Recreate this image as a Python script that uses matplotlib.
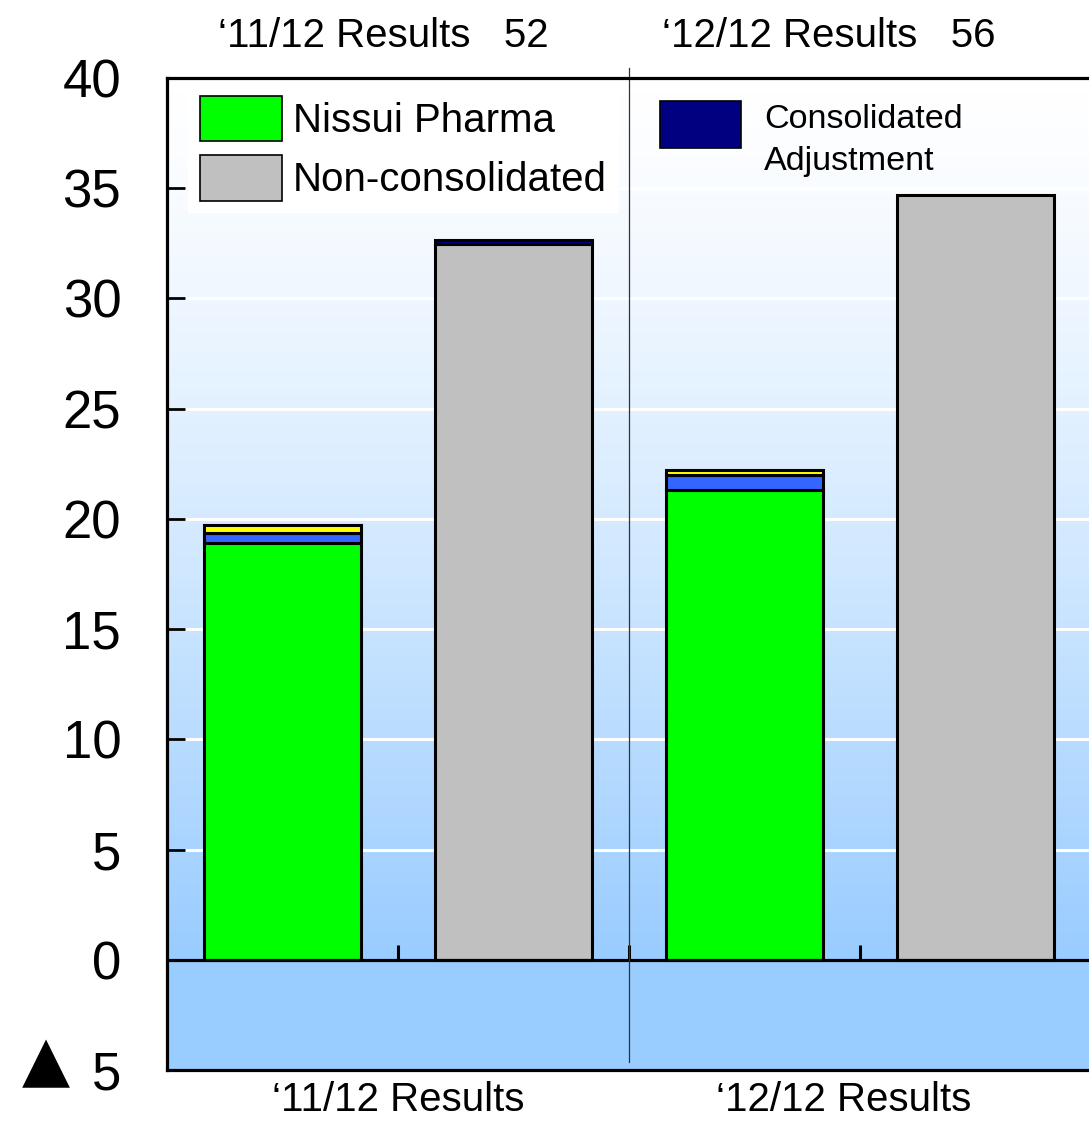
import numpy as np
import matplotlib
matplotlib.use("Agg")
import matplotlib.pyplot as plt
from matplotlib.patches import Patch, Rectangle
from matplotlib.colors import LinearSegmentedColormap
from matplotlib.transforms import blended_transform_factory

plt.rcParams['font.family'] = ['Liberation Sans', 'DejaVu Sans']

# data
group_labels = ['\u201811/12 Results', '\u201812/12 Results']
top_labels = ['\u201811/12 Results   52', '\u201812/12 Results   56']
nissui_x = [0, 2]
nonconsol_x = [1, 3]
nissui = [18.9, 21.3]
subsid_blue = [0.45, 0.68]
subsid_yellow = [0.37, 0.23]
non_consolidated = [32.45, 34.7]
consol_adjustment = [0.22, 0.0]
y_ticks = [-5, 0, 5, 10, 15, 20, 25, 30, 35, 40]
y_ticklabels = ['5', '0', '5', '10', '15', '20', '25', '30', '35', '40']
bottom_label_x = [0.5, 2.43]
top_label_x = [0.436, 2.366]

c_green = '#00FF00'
c_blue = '#3366FF'
c_yellow = '#FFFF00'
c_gray = '#C0C0C0'
c_navy = '#000080'
c_sky = '#99CCFF'

fig = plt.figure(figsize=(10.89, 11.21), dpi=100)
ax = fig.add_axes([167 / 1089, 51 / 1121, 924 / 1089, 992 / 1121])

# background: gradient above zero (white at top, blue at zero), flat blue below
grad = (1 - np.linspace(0, 1, 256)) ** 1.3
cmap = LinearSegmentedColormap.from_list('bg', ['#FFFFFF', c_sky])
ax.imshow(grad[:, None], extent=[-0.5, 3.5, 0, 40], cmap=cmap, aspect='auto',
          vmin=0, vmax=1, zorder=0, origin='lower')
ax.axhspan(-5, 0, color=c_sky, zorder=0.1, lw=0)
ax.set_xlim(-0.5, 3.5)
ax.set_ylim(-5, 40)

ax.set_axisbelow(True)
ax.yaxis.grid(True, color='white', lw=2.2)

w = 0.68
edge = dict(edgecolor='black', linewidth=2.2, zorder=3)
ax.bar(nissui_x, nissui, w, color=c_green, **edge)
ax.bar(nissui_x, subsid_blue, w, bottom=nissui, color=c_blue, **edge)
ax.bar(nissui_x, subsid_yellow, w, bottom=np.add(nissui, subsid_blue), color=c_yellow, **edge)
ax.bar(nonconsol_x, non_consolidated, w, color=c_gray, **edge)
adj = np.array(consol_adjustment)
ax.bar(np.array(nonconsol_x)[adj > 0], adj[adj > 0], w,
       bottom=np.array(non_consolidated)[adj > 0], color=c_navy, **edge)

ax.axhline(0, color='black', lw=2.3, zorder=4)
ax.vlines([0.5, 1.5, 2.5], 0, 0.68, color='black', lw=2.2, zorder=4)
ax.axvline(1.5, ymin=0.008, ymax=1.01, color='#333333', lw=0.9, zorder=4, clip_on=False)

for s in ['left', 'top', 'bottom']:
    ax.spines[s].set_linewidth(2.3)
    ax.spines[s].set_zorder(5)
ax.spines['right'].set_visible(False)

ax.set_yticks(y_ticks, y_ticklabels)
ax.tick_params(axis='y', direction='in', length=13, width=2, labelsize=38, pad=33)
ax.set_xticks(bottom_label_x, group_labels)
ax.tick_params(axis='x', length=0, labelsize=29, pad=8)

# negative marker in front of the -5 label
tr_y = blended_transform_factory(ax.transAxes, ax.transData)
ax.text(-0.131, -4.68, '\u25b2', transform=tr_y, ha='center', va='center',
        fontsize=45, family='DejaVu Sans')

tr = blended_transform_factory(ax.transData, ax.transAxes)
for x, t in zip(top_label_x, top_labels):
    ax.text(x, 1.042, t, transform=tr, ha='center', va='center', fontsize=29)

# legend for the two main series
h1 = [Patch(facecolor=c_green, edgecolor='black', lw=1.2, label='Nissui Pharma'),
      Patch(facecolor=c_gray, edgecolor='black', lw=1.2, label='Non-consolidated')]
ax.legend(handles=h1, loc='upper left', bbox_to_anchor=(0.0228, 0.994),
          borderaxespad=0, borderpad=0.3, fontsize=29, handlelength=2.03,
          handleheight=1.35, handletextpad=0.27, labelspacing=0.35,
          frameon=True, fancybox=False, facecolor='white', edgecolor='none',
          framealpha=1)

# separate key for the consolidated adjustment
ax.add_patch(Rectangle((0.5335, 0.9294), 0.0877, 0.0474, transform=ax.transAxes,
                       facecolor=c_navy, edgecolor='black', lw=1.2, zorder=6))
ax.text(0.6461, 0.9734, 'Consolidated\nAdjustment', transform=ax.transAxes,
        ha='left', va='top', fontsize=24.6, linespacing=1.45, zorder=6)

fig.savefig('out.png', dpi=100, facecolor='white')
